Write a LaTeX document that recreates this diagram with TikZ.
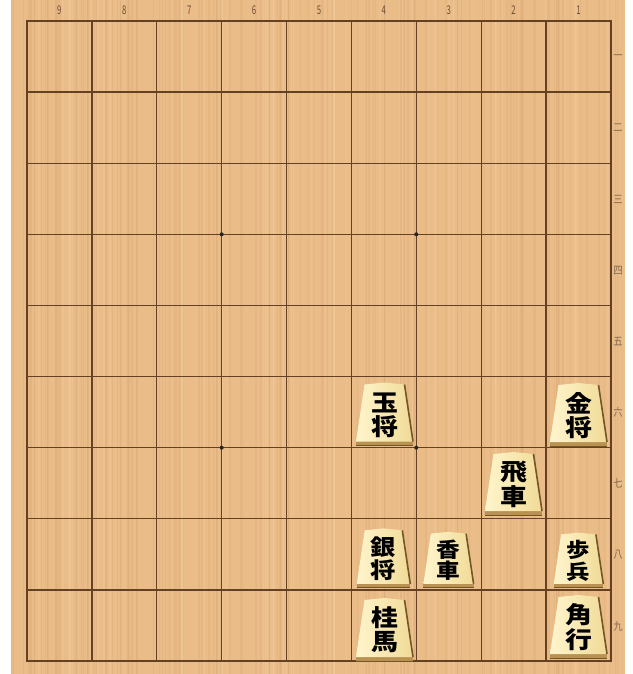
\documentclass[tikz,border=0pt]{standalone}
\usepackage{fontspec}
\newfontfamily\cjk{Noto Sans CJK JP}
\definecolor{wood}{RGB}{234,188,136}
\definecolor{woodd}{RGB}{200,150,100}
\definecolor{woodl}{RGB}{245,210,165}
\definecolor{gridc}{RGB}{100,65,35}
\definecolor{face}{RGB}{240,218,150}
\definecolor{facelight}{RGB}{255,245,205}
\definecolor{edge}{RGB}{115,85,40}
\definecolor{band}{RGB}{185,145,80}
\definecolor{lab}{RGB}{110,78,50}
\tikzset{
  gridline/.style={gridc, line width=1.4pt},
  border/.style={gridc, line width=2pt},
  star/.style={circle, fill=black!85, inner sep=0pt, minimum size=4pt},
  collab/.style={font=\cjk\fontsize{12}{12}\selectfont, text=lab, inner sep=0pt, xscale=0.65},
  rowlab/.style={font=\cjk\fontsize{11}{11}\selectfont, text=lab!85, inner sep=0pt, xscale=0.85},
  glyph/.style={font=\cjk\bfseries\fontsize{24}{24}\selectfont, text=black, inner sep=0pt}
}
\newcommand\shogipiece[6]{%
  \begin{scope}[shift={(#2,#3)}, scale=#4]
    \fill[band] (-28.5,25) -- (28.5,25) -- (28.5,31) -- (-28.5,31) -- cycle;
    \shade[left color=facelight, right color=face]
      (-20,-30) -- (0,-32) -- (20,-30) -- (28.5,27) -- (-28.5,27) -- cycle;
    \draw[edge, line width=1.6pt] (20,-30) -- (28.5,27);
    \draw[edge, line width=0.8pt] (-28.5,31) -- (28.5,31);
    \node[glyph, scale=#4, xscale=1.12, yscale=0.97] (#1a) at (0,-12) {#5};
    \node[glyph, scale=#4, xscale=1.12, yscale=0.97] (#1b) at (0,12.5) {#6};
  \end{scope}}
\begin{document}
\begin{tikzpicture}[x=1pt, y=-1pt]
  \useasboundingbox[fill=white] (0,0) rectangle (632,674);
  \fill[wood] (11,0) rectangle (625,674);
  \pgfmathsetseed{7}
  \foreach \i in {1,...,160}{
    \pgfmathsetmacro\gx{11+614*rnd}
    \pgfmathsetmacro\gw{0.4+1.6*rnd}
    \draw[woodd, line width=\gw pt, opacity=0.14] (\gx,0) -- (\gx,674);
  }
  \foreach \i in {1,...,80}{
    \pgfmathsetmacro\gx{11+614*rnd}
    \pgfmathsetmacro\gw{0.5+2*rnd}
    \draw[woodl, line width=\gw pt, opacity=0.25] (\gx,0) -- (\gx,674);
  }
  % grid
  \foreach \i in {1,...,8}{
    \draw[gridline] ({27+64.889*\i},21) -- ({27+64.889*\i},661);
    \draw[gridline] (27,{21+71.111*\i}) -- (611,{21+71.111*\i});
  }
  \draw[border] (27,21) rectangle (611,661);
  % star points
  \node[star] (s1) at (221.7,234.3) {};
  \node[star] (s2) at (416.3,234.3) {};
  \node[star] (s3) at (221.7,447.7) {};
  \node[star] (s4) at (416.3,447.7) {};
  % column labels
  \foreach \n [count=\k from 0] in {9,8,7,6,5,4,3,2,1}{
    \node[collab] (c\n) at ({59.4+64.889*\k},10) {\n};
  }
  % row labels
  \foreach \r [count=\k from 0] in {一,二,三,四,五,六,七,八,九}{
    \node[rowlab] (r\k) at (618,{57+71.111*\k}) {\r};
  }
  % pieces
  \shogipiece{gyoku}{384.5}{414.5}{1}{玉}{将}
  \shogipiece{kin}{578.5}{415}{1}{金}{将}
  \shogipiece{hisha}{513.5}{484}{1}{飛}{車}
  \shogipiece{gin}{383.5}{558.5}{0.94}{銀}{将}
  \shogipiece{kyo}{448.5}{560}{0.88}{香}{車}
  \shogipiece{fu}{578.5}{560.5}{0.87}{歩}{兵}
  \shogipiece{kei}{384.5}{630}{1}{桂}{馬}
  \shogipiece{kaku}{578.5}{627}{1}{角}{行}
\end{tikzpicture}
\end{document}
